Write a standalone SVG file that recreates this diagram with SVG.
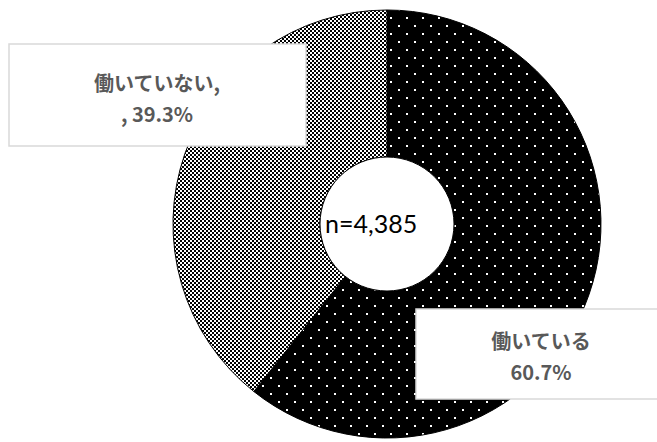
<svg xmlns="http://www.w3.org/2000/svg" width="657" height="442" viewBox="0 0 657 442">
<defs>
<pattern id="checker" patternUnits="userSpaceOnUse" width="4" height="4">
<rect width="4" height="4" fill="#fff"/>
<rect x="0" y="0" width="2" height="2" fill="#000"/>
<rect x="2" y="2" width="2" height="2" fill="#000"/>
</pattern>
<pattern id="dots" patternUnits="userSpaceOnUse" width="16" height="16">
<rect width="16" height="16" fill="#000"/>
<rect x="6" y="1" width="2" height="2" fill="#fff"/>
<rect x="14" y="9" width="2" height="2" fill="#fff"/>
</pattern>
<style>
.lbl{font-family:"Noto Sans CJK JP","Noto Sans",sans-serif;font-weight:bold;font-size:20px;fill:#595959;text-anchor:middle}
.box{fill:#fff;stroke:#d9d9d9;stroke-width:1.5}
.seg{stroke:#000;stroke-width:1}
</style>
</defs>
<rect width="657" height="442" fill="#fff"/>
<g id="connectors"></g>
<g id="slice-working">
<path class="seg" fill="url(#dots)" d="M387,10 A214,214 0 1 1 253.8,391.5 L345.3,276.5 A67,67 0 1 0 387,157 Z"/>
</g>
<g id="slice-not-working">
<path class="seg" fill="url(#checker)" d="M387,10 L387,157 A67,67 0 0 0 345.3,276.5 L253.8,391.5 A214,214 0 0 1 387,10 Z"/>
</g>
<g id="center">
<circle cx="387" cy="224" r="67" fill="#fff" stroke="#000" stroke-width="1"/>
<text x="325" y="233" font-family="Lato,'Liberation Sans',sans-serif" font-size="25" fill="#000">n=4,385</text>
</g>
<g id="label-not-working">
<rect class="box" x="9" y="44" width="297" height="102"/>
<text class="lbl" x="157" y="91">働いていない,</text>
<text class="lbl" x="157" y="122">, 39.3%</text>
</g>
<g id="label-working">
<rect class="box" x="416" y="309" width="250" height="90"/>
<text class="lbl" x="541" y="349">働いている</text>
<text class="lbl" x="541" y="380">60.7%</text>
</g>
</svg>
